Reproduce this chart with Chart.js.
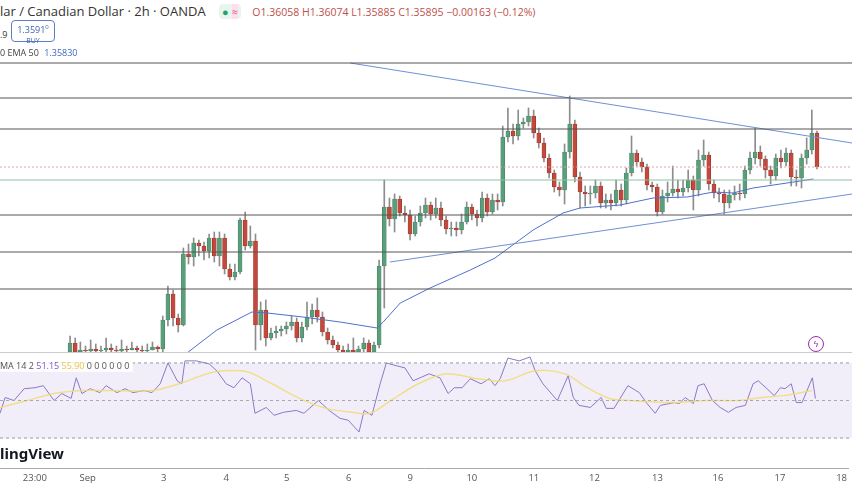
<!DOCTYPE html>
<html><head><meta charset="utf-8">
<script src="https://cdn.jsdelivr.net/npm/chart.js@4/dist/chart.umd.min.js"></script>
<style>
body{margin:0;width:852px;height:485px;overflow:hidden;background:#fff;font-family:"Open Sans",sans-serif;position:relative}
.abs{position:absolute}
</style></head><body>
<div class="abs" style="left:0;top:55px;width:852px;height:297px"><canvas id="main"></canvas></div>
<div class="abs" style="left:0;top:352px;width:852px;height:96px;border-top:1px solid #ccc;box-sizing:border-box"><canvas id="rsi"></canvas></div>
<div class="abs" style="left:0;top:466px;width:852px;height:21px"><canvas id="xax"></canvas></div>
<div class="abs" style="left:0;top:2px;font-size:13px;color:#333;white-space:nowrap">lar / Canadian Dollar · 2h · OANDA
 <span style="display:inline-block;margin-left:10px;background:#e8f5ee;border-radius:4px;padding:0 3px;font-size:11px"><span style="color:#26a269">●</span> <span style="color:#e05a7a;background:#fde">≈</span></span>
 <span style="margin-left:8px;font-size:10.5px;color:#c0504a">O1.36058 H1.36074 L1.35885 C1.35895 −0.00163 (−0.12%)</span></div>
<div class="abs" style="left:0;top:28px;font-size:9px;color:#333">.9</div>
<div class="abs" style="left:11px;top:20px;width:44px;height:22px;border:1px solid #5b7ec4;border-radius:4px;text-align:center;font-size:9px;line-height:10px;color:#3d63b0;padding-top:1px;box-sizing:border-box;background:#fff">1.3591<sup style="font-size:6px">0</sup><br><span style="font-size:7px">BUY</span></div>
<div class="abs" style="left:0;top:46px;font-size:9px;color:#444">0 EMA 50 <span style="color:#3f66c0;margin-left:3px">1.35830</span></div>
<div class="abs" style="left:0;top:359px;font-size:9px;color:#555;background:rgba(255,255,255,.8);padding-right:4px">MA 14 2 <span style="color:#7e57c2">51.15</span> <span style="color:#e8c840">55.90</span> 0 0 0 0 0 0</div>
<div class="abs" style="left:808px;top:336px;width:14px;height:14px;border:1.5px solid #9c27b0;border-radius:50%;font-size:9px;color:#9c27b0;text-align:center;line-height:14px">ϟ</div>
<div class="abs" style="left:0;top:443px;font-size:15px;font-weight:bold;color:#131722;font-family:'Noto Sans',sans-serif">lingView</div>
<script>
const closes=[1.35015,1.3497,1.3498,1.34975,1.34985,1.34975,1.3498,1.3499,1.3498,1.34975,1.34985,1.3498,1.3499,1.3498,1.34975,1.3498,1.34995,1.34985,1.3513,1.3526,1.3514,1.35105,1.3546,1.35445,1.35515,1.355,1.35475,1.3554,1.3545,1.3554,1.35385,1.35345,1.3537,1.3563,1.355,1.35525,1.35105,1.3518,1.3504,1.35065,1.35075,1.35085,1.351,1.3512,1.3504,1.35095,1.35145,1.3518,1.35145,1.3507,1.3503,1.35005,1.3498,1.3497,1.3498,1.3497,1.34985,1.35015,1.3497,1.35005,1.354,1.35695,1.35635,1.35735,1.35665,1.35655,1.3556,1.3562,1.35665,1.35705,1.3566,1.3569,1.3563,1.35585,1.3559,1.3558,1.3562,1.35695,1.3566,1.3564,1.3574,1.3567,1.3573,1.3572,1.36045,1.36075,1.3605,1.3611,1.3612,1.3615,1.36065,1.36015,1.3594,1.35865,1.35795,1.3578,1.3597,1.3611,1.35845,1.3577,1.3576,1.35765,1.358,1.35715,1.3573,1.35715,1.3578,1.3573,1.35865,1.35965,1.3592,1.35895,1.35805,1.35795,1.3567,1.3575,1.35765,1.35785,1.3577,1.3579,1.3583,1.3578,1.3593,1.35955,1.3581,1.35765,1.3576,1.35715,1.35755,1.35765,1.3576,1.3588,1.3594,1.3597,1.35935,1.3588,1.3585,1.3594,1.3592,1.35965,1.35845,1.3584,1.3594,1.3598,1.36065,1.35895];
const opens=[1.3497,1.35015,1.3497,1.3498,1.34975,1.34985,1.34975,1.3498,1.3499,1.3498,1.34975,1.34985,1.3498,1.3499,1.3498,1.34975,1.3498,1.34995,1.34985,1.3513,1.3526,1.3514,1.35105,1.3546,1.35445,1.35515,1.355,1.35475,1.3554,1.3545,1.3554,1.35385,1.35345,1.3537,1.3563,1.355,1.35525,1.35105,1.3518,1.3504,1.35065,1.35075,1.35085,1.351,1.3512,1.3504,1.35095,1.35145,1.3518,1.35145,1.3507,1.3503,1.35005,1.3498,1.3497,1.3498,1.3497,1.34985,1.35015,1.3497,1.35005,1.354,1.35695,1.35635,1.35735,1.35665,1.35655,1.3556,1.3562,1.35665,1.35705,1.3566,1.3569,1.3563,1.35585,1.3559,1.3558,1.3562,1.35695,1.3566,1.3564,1.3574,1.3567,1.3573,1.3572,1.36045,1.36075,1.3605,1.3611,1.3612,1.3615,1.36065,1.36015,1.3594,1.35865,1.35795,1.3578,1.3597,1.3611,1.35845,1.3577,1.3576,1.35765,1.358,1.35715,1.3573,1.35715,1.3578,1.3573,1.35865,1.35965,1.3592,1.35895,1.35805,1.35795,1.3567,1.3575,1.35765,1.35785,1.3577,1.3579,1.3583,1.3578,1.3593,1.35955,1.3581,1.35765,1.3576,1.35715,1.35755,1.35765,1.3576,1.3588,1.3594,1.3597,1.35935,1.3588,1.3585,1.3594,1.3592,1.35965,1.35845,1.3584,1.3594,1.3598,1.36065];
const highs=[1.3505,1.3504,1.3502,1.35,1.3503,1.3501,1.35,1.3504,1.3501,1.35,1.3503,1.35,1.3502,1.35,1.35,1.3501,1.3502,1.35,1.3515,1.353,1.3528,1.3516,1.3549,1.3551,1.3554,1.3553,1.3552,1.3556,1.3557,1.3557,1.3556,1.3541,1.3541,1.3564,1.3567,1.356,1.3556,1.3522,1.3523,1.3509,1.351,1.351,1.3512,1.3515,1.3514,1.3512,1.3522,1.3521,1.3524,1.3517,1.3509,1.3505,1.3502,1.35,1.3501,1.3504,1.35,1.3504,1.3503,1.3502,1.3543,1.3583,1.3574,1.3576,1.3575,1.357,1.3568,1.3565,1.357,1.3574,1.3572,1.3574,1.3572,1.3565,1.3562,1.3562,1.3566,1.3572,1.3571,1.3568,1.3577,1.3576,1.3576,1.3576,1.361,1.3619,1.3611,1.3618,1.3614,1.3619,1.3618,1.3609,1.3604,1.3596,1.3588,1.3582,1.3601,1.3625,1.3613,1.3587,1.358,1.358,1.3583,1.3582,1.3576,1.3576,1.3583,1.3581,1.3589,1.3605,1.3598,1.3594,1.3591,1.3582,1.3581,1.3578,1.3582,1.359,1.3583,1.3583,1.3588,1.3585,1.3598,1.3603,1.3597,1.3583,1.3579,1.3578,1.3578,1.358,1.3581,1.359,1.3597,1.3609,1.36,1.3595,1.359,1.3596,1.3598,1.3599,1.3598,1.3588,1.3596,1.3604,1.3618,1.36074];
const lows=[1.3496,1.3496,1.3496,1.3496,1.3496,1.3496,1.3497,1.3497,1.3497,1.3496,1.3497,1.3497,1.3498,1.3497,1.3496,1.3497,1.3498,1.3497,1.3497,1.351,1.351,1.3507,1.351,1.3541,1.354,1.3545,1.3543,1.3544,1.3542,1.354,1.3536,1.3533,1.3533,1.3536,1.3548,1.3549,1.3498,1.3503,1.35,1.3503,1.3504,1.3505,1.3506,1.3508,1.3502,1.3502,1.3508,1.3511,1.3512,1.3505,1.3501,1.3499,1.3497,1.3496,1.3496,1.3496,1.3496,1.3497,1.3496,1.3496,1.3499,1.3519,1.356,1.3557,1.3565,1.3562,1.3553,1.3555,1.356,1.3564,1.3563,1.3564,1.356,1.3556,1.3555,1.3555,1.3556,1.3561,1.3563,1.356,1.3562,1.3565,1.3566,1.3568,1.357,1.3602,1.3601,1.3603,1.3609,1.361,1.3604,1.3599,1.3592,1.3584,1.3577,1.3575,1.3571,1.3594,1.3582,1.3569,1.357,1.3571,1.3574,1.3569,1.3569,1.3568,1.357,1.357,1.3571,1.3585,1.359,1.3587,1.3578,1.3577,1.3565,1.3566,1.3572,1.3575,1.3574,1.3575,1.3577,1.3568,1.3575,1.359,1.3578,1.3574,1.3572,1.3566,1.3569,1.3573,1.3573,1.3574,1.3586,1.3591,1.359,1.3584,1.3581,1.3583,1.3589,1.359,1.358,1.358,1.3579,1.3591,1.3596,1.35885];
const emaIdx=[22.7,28.5,35.3,38.3,45.2,52.4,59.6,60.8,64.1,69.9,77.7,82.5,89.9,95.7,99.0,106.8,113.2,119.8,124.9,128.7,132.6,139.2,144.3];
const emaVal=[1.34965,1.3508,1.3517,1.35165,1.35145,1.3512,1.3509,1.3512,1.35215,1.3529,1.3538,1.3544,1.3558,1.35665,1.3569,1.35705,1.3574,1.35745,1.3577,1.35765,1.3579,1.35815,1.35835];
const levels=[1.36415,1.3624,1.36085,1.35655,1.3547,1.35285];
const lastClose=1.35895, emaLast=1.3583;
const upperTrend=[[54.4,1.36415],[151.8,1.36015]];
const lowerTrend=[[62.1,1.3542],[151.8,1.3576]];
const rsiIdx=[-13.6,-12.6,-10.9,-8.9,-6.8,-5.2,-3.1,-1.6,0.2,1.2,2.3,3.9,5.8,7,9.1,10.7,12.2,14.4,15.9,17.5,19,20.8,21.7,22.3,24.5,27,28.5,30.3,31.8,33.4,35,35.9,38.1,39.6,41.4,43.9,45.4,48.2,50.3,52.4,54,56.1,57.1,58.6,60.2,61.4,63.5,65,66.6,69.7,71.8,73.4,74.6,76.1,77.7,79.8,81.4,82.5,83.5,85,87.2,89.3,90.3,91.8,94.6,96.7,97.7,98.8,101,103.1,104.1,105.6,108.3,110.5,112,113.6,114.6,117.3,118.3,119.4,121,121.9,123.1,124.7,126.2,127.8,129.3,131.1,132.6,133.6,135.1,136.7,137.9,138.8,140,141,142.1,144.1,144.7];
const rsiVal=[43.2,51.6,50,56.3,56.8,57.9,50,53.7,51.1,62.1,53.7,56.3,54.2,57.9,54.2,56.3,54.2,55.3,54.2,58.9,70,60.5,58.9,71.1,71.1,69.5,65.8,58.9,56.8,62.1,58.9,43.2,46.3,42.1,43.7,44.7,43.2,50,44.7,40.5,39.5,33.2,44.7,42.1,58.9,70,68.4,67.4,60.5,64.2,62.1,53.7,56.8,56.8,61.6,58.9,61.6,57.9,61.6,72.6,71.1,73.2,65.8,58.9,50,63.2,51.6,47.4,46.3,51.6,45.8,45.8,57.9,54.2,48.4,43.2,47.4,48.9,48.4,51.6,48.4,57.9,58.9,50,46.3,43.7,46.3,47.4,58.9,60.5,56.8,52.6,56.8,56.3,58.9,48.9,48.9,62.1,51.1];
const sigIdx=[-13.6,-8.3,-3.1,2.3,7.6,15.9,21.2,26.6,29.7,34.4,39.2,44.5,49.7,54.9,58.3,62.3,67.6,73,79.2,84.5,90.3,96.1,100.4,104.7,108.7,117.3,123.7,129.9,134.2,138.4,144.1];
const sigVal=[46.3,50,53.7,55.3,55.3,55.3,58.9,64.2,65.8,65.3,58.9,51.1,45.8,43.7,43.2,50,58.9,64.2,61.6,60.5,65.8,64.2,56.8,51.1,50,48.9,50,50,51.6,52.6,55.3];
const tickPos=[-6.8,3.5,18.3,30.5,42.3,54.4,66.4,78.4,90.5,102.3,114.6,126.4,138.5,150.5];
const tickLbl=['23:00','Sep','3','4','5','6','9','10','11','12','13','16','17','18'];

const XMIN=-13.6, XMAX=151.8;
const GREEN='#5a9e7c', RED='#c4483c';
const idx=closes.map((_,i)=>i);
const col=idx.map(i=>closes[i]>=opens[i]?GREEN:RED);
const line=(pts,color,extra={})=>Object.assign({type:'line',data:pts,borderColor:color,borderWidth:1,pointRadius:0,fill:false,tension:0},extra);
const ds=[];
levels.forEach(l=>ds.push(line([{x:XMIN,y:l},{x:XMAX,y:l}],'#555')));
ds.push(line([{x:XMIN,y:lastClose},{x:XMAX,y:lastClose}],'#e4a3a3',{borderDash:[2,2]}));
ds.push(line([{x:XMIN,y:emaLast},{x:XMAX,y:emaLast}],'#8cc2a3'));
ds.push(line(upperTrend.map(p=>({x:p[0],y:p[1]})),'#6f8fd6'));
ds.push(line(lowerTrend.map(p=>({x:p[0],y:p[1]})),'#6f8fd6'));
ds.push(line(emaIdx.map((x,i)=>({x,y:emaVal[i]})),'#4f6fcf'));
ds.push({type:'bar',data:idx.map(i=>({x:i,y:[lows[i],highs[i]]})),backgroundColor:'#8d8d8d',barThickness:1,grouped:false,order:2});
ds.push({type:'bar',data:idx.map(i=>({x:i,y:[opens[i],closes[i]]})),backgroundColor:col,borderColor:idx.map(i=>closes[i]>=opens[i]?'#3f7f5f':'#9a3028'),borderWidth:0.6,borderSkipped:false,barThickness:4,minBarLength:1,grouped:false,order:1});
ds.forEach(d=>{if(d.type==='line')d.order=0;});
Chart.defaults.animation=false;
Chart.defaults.font.family='"Open Sans",sans-serif';
new Chart(document.getElementById('main'),{data:{datasets:ds},options:{responsive:true,maintainAspectRatio:false,layout:{padding:0},
 plugins:{legend:{display:false},tooltip:{enabled:false}},
 scales:{x:{type:'linear',min:XMIN,max:XMAX,display:false,offset:false},y:{min:1.3497,max:1.36455,display:false}}}});
const band={id:'band',beforeDatasetsDraw(c){const {ctx,chartArea:a,scales:{y}}=c;ctx.save();ctx.fillStyle='rgba(126,87,194,0.1)';const t=y.getPixelForValue(70),b=y.getPixelForValue(30);ctx.fillRect(a.left,t,a.right-a.left,b-t);ctx.restore();}};
new Chart(document.getElementById('rsi'),{data:{datasets:[
 line([{x:XMIN,y:70},{x:XMAX,y:70}],'#999',{borderDash:[3,3]}),
 line([{x:XMIN,y:50},{x:XMAX,y:50}],'#aaa',{borderDash:[3,3]}),
 line([{x:XMIN,y:30},{x:XMAX,y:30}],'#999',{borderDash:[3,3]}),
 line(sigIdx.map((x,i)=>({x,y:sigVal[i]})),'rgba(240,220,120,0.85)',{borderWidth:1.5,tension:0.3}),
 line(rsiIdx.map((x,i)=>({x,y:rsiVal[i]})),'#8a78c8')
]},plugins:[band],options:{responsive:true,maintainAspectRatio:false,layout:{padding:0},plugins:{legend:{display:false},tooltip:{enabled:false}},
 scales:{x:{type:'linear',min:XMIN,max:XMAX,display:false},y:{min:24.7,max:75.3,display:false}}}});
new Chart(document.getElementById('xax'),{type:'line',data:{datasets:[{data:[]}]},options:{responsive:true,maintainAspectRatio:false,layout:{padding:{top:0,bottom:0}},plugins:{legend:{display:false},tooltip:{enabled:false}},
 scales:{y:{display:false},x:{type:'linear',min:XMIN,max:XMAX,position:'bottom',grid:{display:false,drawTicks:false},border:{color:'#aaa'},
  afterBuildTicks:s=>{s.ticks=tickPos.map(v=>({value:v}));},
  afterFit:s=>{s.height=19;},
  ticks:{autoSkip:false,maxRotation:0,padding:5,color:'#555',font:{size:9.5},callback:(v,i)=>tickLbl[i]}}}}});
</script></body></html>
